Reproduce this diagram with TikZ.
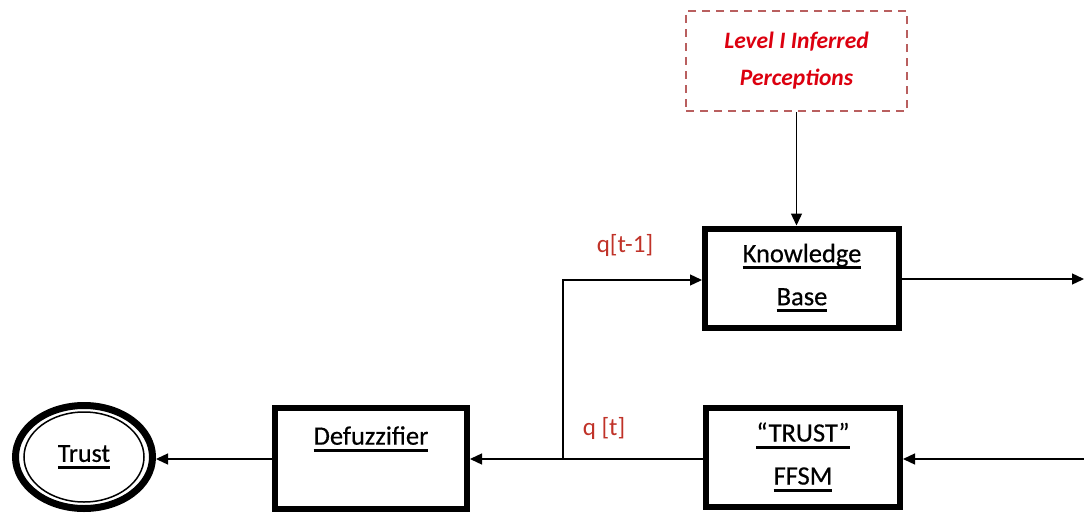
\documentclass[tikz,border=0pt]{standalone}
\usepackage{fontspec}
\setmainfont{Carlito}
\newfontfamily\thickfont[FakeBold=0.5]{Carlito}
\usetikzlibrary{arrows.meta,shapes.geometric}
\definecolor{dashred}{RGB}{185,95,95}
\definecolor{txtred}{RGB}{220,0,15}
\definecolor{lblred}{RGB}{192,50,40}
\newcommand\myul[1]{\setbox0=\hbox{#1}\rlap{\vrule width\wd0 height -4pt depth 7pt}\box0}
\begin{document}
\begin{tikzpicture}[x=1pt,y=-1pt,
  box/.style={draw,line width=6pt,minimum width=194pt,minimum height=99pt,align=center,
    font=\thickfont\fontsize{26.5}{43}\selectfont, inner sep=0pt},
  conn/.style={line width=1.3pt,-{Triangle[length=12pt,width=11pt]}},
  lbl/.style={text=lblred,font=\fontsize{25}{30}\selectfont,inner sep=0pt},
  plainlbl/.style={font=\thickfont\fontsize{26.5}{30}\selectfont,inner sep=0pt}]
\useasboundingbox (0,0) rectangle (1084,514);
% dashed perceptions box
\node[draw=dashred,dashed,dash pattern=on 8pt off 6pt,line width=2pt,minimum width=221pt,minimum height=100pt,
  text=txtred,align=center,font=\fontsize{23.5}{37}\selectfont\bfseries\itshape] (perc) at (796.5,61)
  {Level I Inferred\\Perceptions};
% knowledge base
\node[box] (kb) at (802,278) {\myul{Knowledge}\\\myul{Base}};
% FFSM
\node[box] (ffsm) at (803,457) {\myul{“TRUST”}\\\myul{FFSM}};
% Defuzzifier
\node[box,minimum width=192pt,minimum height=101pt] (defuz) at (371,458) {};
\node[plainlbl] (defuztext) at (371,439) {\myul{Defuzzifier}};
% Trust ellipse
\node[ellipse,draw,line width=7pt,minimum width=137pt,minimum height=103pt,inner sep=0pt,
  font=\thickfont\fontsize{26}{30}\selectfont] (trust) at (84,457) {\myul{Trust}};
\draw[line width=1.5pt] (trust.center) ellipse [x radius=60pt, y radius=45pt];
% coordinates
\coordinate (kbout) at (1084,279);
\coordinate (ffsmin) at (1084,459);
\coordinate (junc) at (563,459);
\coordinate (up) at (563,280);
% connectors
\draw[conn] (perc.south) -- (perc.south |- kb.north);
\draw[conn] (kb.east |- kbout) -- (kbout);
\draw[conn] (ffsmin) -- (ffsm.east |- ffsmin);
\draw[conn] (ffsm.west |- ffsmin) -- (defuz.east |- ffsmin);
\draw[conn] (junc) -- (up) -- (kb.west |- up);
\draw[conn] (defuz.west |- ffsmin) -- (trust.east |- ffsmin);
% labels
\node[lbl] (qt1) at (625,245) {q[t-1]};
\node[lbl] (qt) at (604,428) {q [t]};
\end{tikzpicture}
\end{document}
